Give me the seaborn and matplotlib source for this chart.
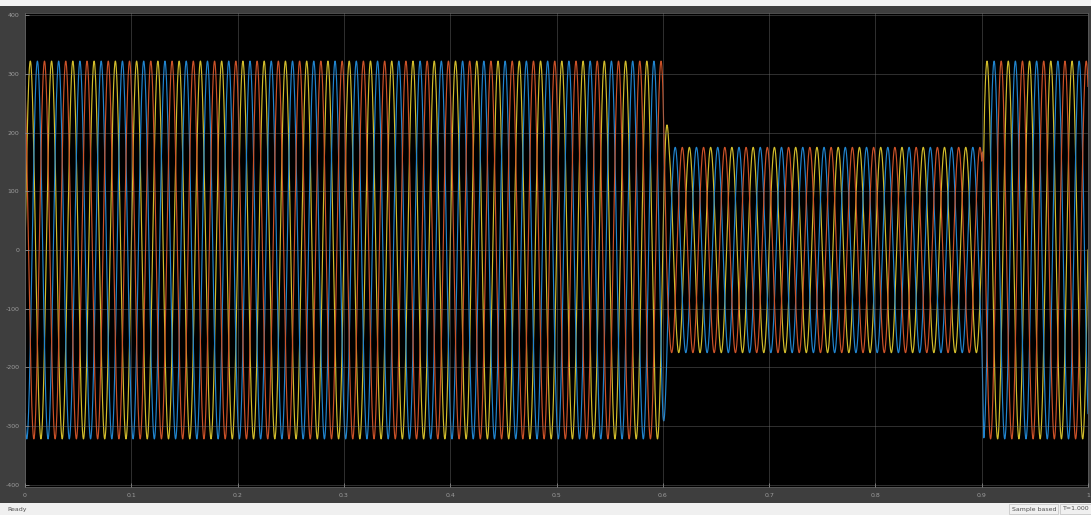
import numpy as np
import pandas as pd
import matplotlib
matplotlib.use("Agg")
import matplotlib.pyplot as plt
import seaborn as sns
from matplotlib.patches import Rectangle

# Three-phase voltage: 50 Hz, peak drops during the 0.6-0.9 s sag
frequency_hz = 50.0
envelope_times = [0.0, 0.600, 0.606, 0.900, 0.902, 1.0]
envelope_peaks = [322.0, 322.0, 175.0, 175.0, 322.0, 322.0]
phase_names = ["Va", "Vb", "Vc"]
phase_shift_deg = [0.0, -120.0, 120.0]
phase_colors = ["#d2bd2c", "#2185cf", "#cc5228"]

x_ticks = [0, 0.1, 0.2, 0.3, 0.4, 0.5, 0.6, 0.7, 0.8, 0.9, 1]
x_tick_labels = ["0", "0.1", "0.2", "0.3", "0.4", "0.5", "0.6", "0.7", "0.8", "0.9", "1"]
y_ticks = [-400, -300, -200, -100, 0, 100, 200, 300, 400]
y_tick_labels = ["-400", "-300", "-200", "-100", "0", "100", "200", "300", "400"]

t = np.linspace(0.0, 1.0, 40001)
peak = np.interp(t, envelope_times, envelope_peaks)
frames = []
for name, shift in zip(phase_names, phase_shift_deg):
    v = peak * np.sin(2 * np.pi * frequency_hz * t + np.deg2rad(shift))
    frames.append(pd.DataFrame({"time": t, "voltage": v, "phase": name}))
df = pd.concat(frames, ignore_index=True)

W, H = 1091, 515
fig = plt.figure(figsize=(W / 100, H / 100), dpi=100, facecolor="#3e3e3e")


def strip(y0, h, color):
    """Plain filled band across the window (toolbar / status bar)."""
    s = fig.add_axes([0, y0 / H, 1, h / H])
    s.set_facecolor(color)
    s.set_xticks([])
    s.set_yticks([])
    for sp in s.spines.values():
        sp.set_visible(False)
    return s


strip(H - 6, 6, "#f2f2f2")
status = strip(0, 12, "#f0f0f0")
status.set_xlim(0, W)
status.set_ylim(0, 12)
status.add_patch(Rectangle((1009, 1), 49, 10, facecolor="none", edgecolor="#c8c8c8", lw=0.6))
status.add_patch(Rectangle((1060, 1), 40, 10, facecolor="none", edgecolor="#c8c8c8", lw=0.6))
status.text(7, 6, "Ready", fontsize=4.5, color="#505050", va="center", ha="left")
status.text(1012, 6, "Sample based", fontsize=4.5, color="#505050", va="center", ha="left")
status.text(1063, 6, "T=1.000", fontsize=4.5, color="#505050", va="center", ha="left")

ax = fig.add_axes([25 / W, (H - 487) / H, (1088 - 25) / W, (487 - 13) / H])
ax.set_facecolor("black")

sns.lineplot(data=df, x="time", y="voltage", hue="phase", palette=phase_colors,
             hue_order=phase_names, linewidth=0.85, legend=False, ax=ax,
             estimator=None, sort=False)

ax.set_xlim(0, 1)
ax.set_ylim(-404, 404)
ax.set_xticks(x_ticks)
ax.set_xticklabels(x_tick_labels)
ax.set_yticks(y_ticks)
ax.set_yticklabels(y_tick_labels)
ax.set_xlabel("")
ax.set_ylabel("")
ax.grid(True, color="#707070", linewidth=0.5, alpha=0.6)
ax.set_axisbelow(False)
for line in ax.get_xgridlines() + ax.get_ygridlines():
    line.set_zorder(3)
ax.tick_params(axis="both", direction="in", length=3, width=0.6, color="#8a8a8a",
               labelsize=4.5, labelcolor="#9c9c9c", pad=4)
for spine in ax.spines.values():
    spine.set_color("#5a5a5a")
    spine.set_linewidth(0.6)

fig.savefig("out.png", dpi=100, facecolor=fig.get_facecolor())
